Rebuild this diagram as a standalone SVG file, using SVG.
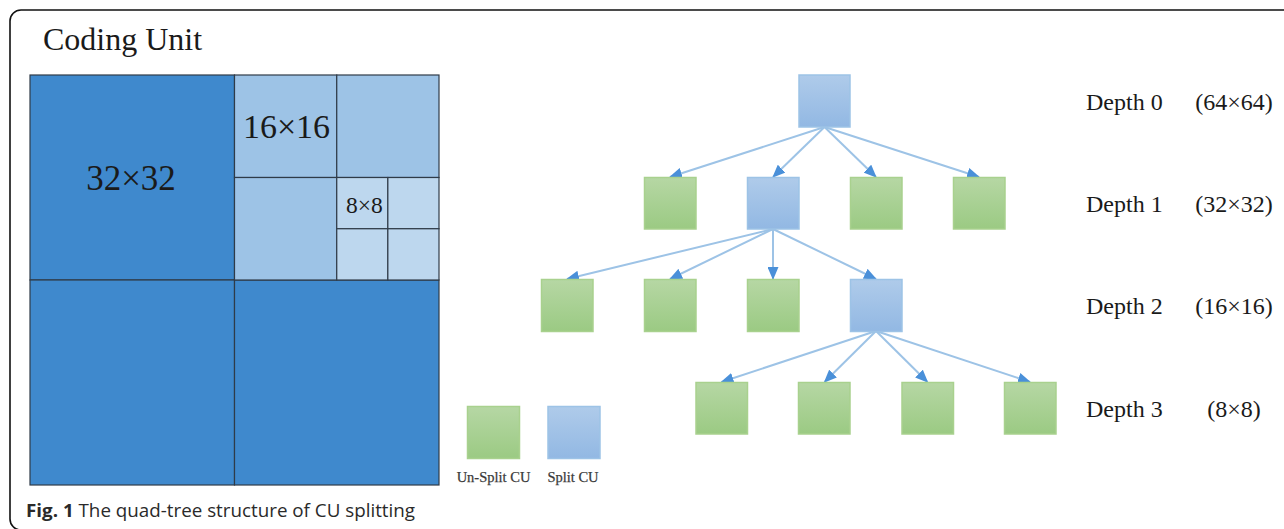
<svg xmlns="http://www.w3.org/2000/svg" width="1284" height="529" viewBox="0 0 1284 529">
  <style>
    .serif { font-family: "Liberation Serif", "Times New Roman", serif; fill: #1a1a1a; }
    .cell { stroke: #2f3b48; stroke-width: 1.2; }
    .dark { fill: #3f89cd; }
    .mid { fill: #9dc3e6; }
    .light { fill: #bdd7ee; }
    .green { fill: url(#gGreen); stroke: #a9d18e; stroke-width: 1.5; }
    .blue { fill: url(#gBlue); stroke: #9dc3e6; stroke-width: 1.5; }
    .edge { stroke: #9dc3e6; stroke-width: 2; fill: none; marker-end: url(#arrow); }
    .depth { font-size: 24px; }
    .legend { font-size: 14.5px; fill: #3a3a3a; stroke: #3a3a3a; stroke-width: 0.25; }
  </style>
  <defs>
    <linearGradient id="gGreen" x1="0" y1="0" x2="0" y2="1">
      <stop offset="0" stop-color="#b6d7a4"/>
      <stop offset="1" stop-color="#9bca83"/>
    </linearGradient>
    <linearGradient id="gBlue" x1="0" y1="0" x2="0" y2="1">
      <stop offset="0" stop-color="#afcbea"/>
      <stop offset="1" stop-color="#92b8e3"/>
    </linearGradient>
    <marker id="arrow" viewBox="0 0 13 11" refX="12" refY="5.5" markerWidth="13" markerHeight="11" markerUnits="userSpaceOnUse" orient="auto">
      <path d="M0,0 L13,5.5 L0,11 Z" fill="#4a90d9"/>
    </marker>
  </defs>

  <rect width="1284" height="529" fill="#ffffff"/>
  <!-- frame -->
  <rect x="10" y="10" width="1300" height="520" rx="11" fill="none" stroke="#111" stroke-width="1.6"/>

  <!-- coding unit partition -->
  <g id="coding-unit">
    <text class="serif" x="43" y="50" font-size="32">Coding Unit</text>
    <rect class="cell dark" x="30" y="75" width="204.5" height="205"/>
    <rect class="cell dark" x="30" y="280" width="204.5" height="205"/>
    <rect class="cell dark" x="234.5" y="280" width="204.5" height="205"/>
    <rect class="cell mid" x="234.5" y="75" width="102.25" height="102.5"/>
    <rect class="cell mid" x="336.75" y="75" width="102.25" height="102.5"/>
    <rect class="cell mid" x="234.5" y="177.5" width="102.25" height="102.5"/>
    <rect class="cell light" x="336.75" y="177.5" width="51.1" height="51.25"/>
    <rect class="cell light" x="387.85" y="177.5" width="51.15" height="51.25"/>
    <rect class="cell light" x="336.75" y="228.75" width="51.1" height="51.25"/>
    <rect class="cell light" x="387.85" y="228.75" width="51.15" height="51.25"/>
    <text class="serif" x="131" y="190" font-size="35" text-anchor="middle">32×32</text>
    <text class="serif" x="286.5" y="138" font-size="34" text-anchor="middle">16×16</text>
    <text class="serif" x="364.5" y="213" font-size="23.5" text-anchor="middle">8×8</text>
  </g>

  <!-- connectors -->
  <g id="connectors">
    <line class="edge" x1="824.5" y1="127" x2="670" y2="177"/>
    <line class="edge" x1="824.5" y1="127" x2="773" y2="177"/>
    <line class="edge" x1="824.5" y1="127" x2="876" y2="177"/>
    <line class="edge" x1="824.5" y1="127" x2="979" y2="177"/>
    <line class="edge" x1="773" y1="229" x2="567" y2="279"/>
    <line class="edge" x1="773" y1="229" x2="670" y2="279"/>
    <line class="edge" x1="773" y1="229" x2="773" y2="279"/>
    <line class="edge" x1="773" y1="229" x2="876" y2="279"/>
    <line class="edge" x1="876" y1="331" x2="721.5" y2="382"/>
    <line class="edge" x1="876" y1="331" x2="824.5" y2="382"/>
    <line class="edge" x1="876" y1="331" x2="927.5" y2="382"/>
    <line class="edge" x1="876" y1="331" x2="1030" y2="382"/>
  </g>

  <!-- tree nodes -->
  <g id="n0"><rect class="blue" x="799" y="75" width="51" height="52"/></g>
  <g id="n1a"><rect class="green" x="644.5" y="177.5" width="51.5" height="51.5"/></g>
  <g id="n1b"><rect class="blue" x="747.5" y="177.5" width="51.5" height="51.5"/></g>
  <g id="n1c"><rect class="green" x="850.5" y="177.5" width="51.5" height="51.5"/></g>
  <g id="n1d"><rect class="green" x="953.5" y="177.5" width="51.5" height="51.5"/></g>
  <g id="n2a"><rect class="green" x="541.5" y="279.5" width="51.5" height="52"/></g>
  <g id="n2b"><rect class="green" x="644.5" y="279.5" width="51.5" height="52"/></g>
  <g id="n2c"><rect class="green" x="747.5" y="279.5" width="51.5" height="52"/></g>
  <g id="n2d"><rect class="blue" x="850.5" y="279.5" width="51.5" height="52"/></g>
  <g id="n3a"><rect class="green" x="696" y="382.5" width="51.5" height="51.5"/></g>
  <g id="n3b"><rect class="green" x="798.5" y="382.5" width="51.5" height="51.5"/></g>
  <g id="n3c"><rect class="green" x="902" y="382.5" width="51.5" height="51.5"/></g>
  <g id="n3d"><rect class="green" x="1004.5" y="382.5" width="51.5" height="51.5"/></g>

  <!-- legend -->
  <g id="legend-unsplit">
    <rect class="green" x="467.5" y="406.5" width="52" height="52"/>
    <text class="serif legend" x="493.5" y="482" text-anchor="middle">Un-Split CU</text>
  </g>
  <g id="legend-split">
    <rect class="blue" x="548" y="406.5" width="52" height="52"/>
    <text class="serif legend" x="573" y="482" text-anchor="middle">Split CU</text>
  </g>

  <!-- depth labels -->
  <g id="depth-labels">
    <text class="serif depth" x="1086" y="110">Depth 0</text>
    <text class="serif depth" x="1234" y="110" text-anchor="middle">(64×64)</text>
    <text class="serif depth" x="1086" y="212">Depth 1</text>
    <text class="serif depth" x="1234" y="212" text-anchor="middle">(32×32)</text>
    <text class="serif depth" x="1086" y="314">Depth 2</text>
    <text class="serif depth" x="1234" y="314" text-anchor="middle">(16×16)</text>
    <text class="serif depth" x="1086" y="417">Depth 3</text>
    <text class="serif depth" x="1234" y="417" text-anchor="middle">(8×8)</text>
  </g>

  <!-- caption -->
  <text x="26" y="517" font-family="'Open Sans', 'Noto Sans', sans-serif" font-size="18.5" fill="#2a2a2a" textLength="389" lengthAdjust="spacingAndGlyphs"><tspan font-weight="bold">Fig. 1</tspan> The quad-tree structure of CU splitting</text>
</svg>
